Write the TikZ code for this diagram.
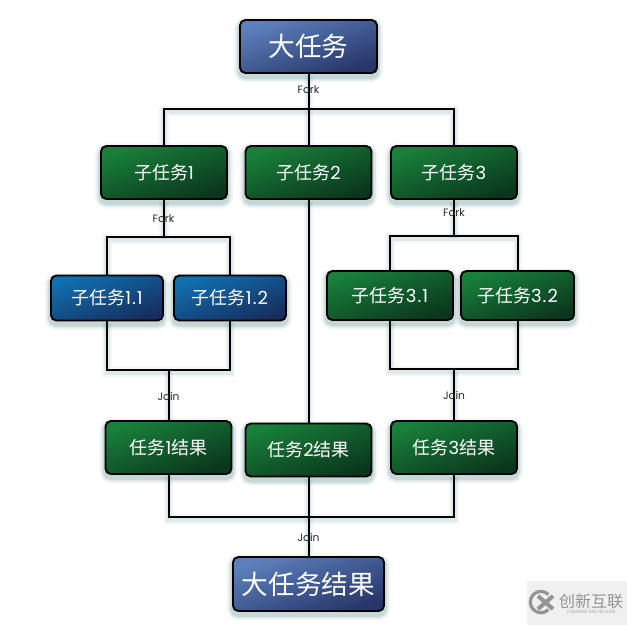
\documentclass[tikz,border=0pt]{standalone}
\usepackage{fontspec}
\setmainfont{Poppins}
\newfontfamily\cjk{Noto Sans CJK SC}
\newfontfamily\lat{Poppins}[LetterSpace=6]
\usetikzlibrary{backgrounds}
\tikzset{
  px/.style={x=0.75pt,y=-0.75pt},
  taskbox/.style n args={4}{draw=black,line width=1.4pt,rounded corners=4pt,
    top color=#3,bottom color=#4,shading angle=20,
    minimum width=#1*0.75pt,minimum height=#2*0.75pt,inner sep=0pt,text=white,
    preaction={draw=teal!60!black,draw opacity=.05,line width=9pt,fill=none,transform canvas={yshift=-2.5pt}},
    preaction={draw=teal!60!black,draw opacity=.07,line width=6.5pt,fill=none,transform canvas={yshift=-2.5pt}},
    preaction={draw=teal!60!black,draw opacity=.12,line width=4pt,fill=none,transform canvas={yshift=-2.5pt}}},
  bigtask/.style 2 args={taskbox={#1}{#2}{bluetop}{bluebot},font=\fontsize{20}{24}\selectfont},
  subtask/.style 2 args={taskbox={#1}{#2}{greentop}{greenbot},font=\fontsize{13.5}{16}\selectfont},
  leaftask/.style 2 args={taskbox={#1}{#2}{leaftop}{leafbot},font=\fontsize{13.5}{16}\selectfont},
  link/.style={draw=black,line width=1.5pt,
    preaction={draw=teal!60!black,draw opacity=.05,line width=7pt,transform canvas={yshift=-1.5pt}},
    preaction={draw=teal!60!black,draw opacity=.08,line width=4pt,transform canvas={yshift=-1.5pt}}},
  flowlabel/.style={font=\fontsize{8}{10}\selectfont,text=black!85,inner sep=0pt},
}
\definecolor{bluetop}{HTML}{5C80BC}
\definecolor{bluebot}{HTML}{27366A}
\definecolor{greentop}{HTML}{18803A}
\definecolor{greenbot}{HTML}{0B361D}
\definecolor{leaftop}{HTML}{1070B0}
\definecolor{leafbot}{HTML}{172E5E}
\begin{document}
\begin{tikzpicture}[px]
\useasboundingbox (0,0) rectangle (627,625);
% nodes
\node[bigtask={137}{53}] (top) at (308.5,46.5) {\cjk 大任务};
\node[subtask={126}{53}] (s1) at (164,172.5) {\cjk 子任务\lat 1};
\node[subtask={126}{53}] (s2) at (308.5,172.5) {\cjk 子任务\lat 2};
\node[subtask={126}{53}] (s3) at (454,172.5) {\cjk 子任务\lat 3};
\node[leaftask={112}{45}] (l1) at (107,298) {\raisebox{1pt}{\cjk 子任务\lat 1.1}};
\node[leaftask={112}{45}] (l2) at (230,298) {\raisebox{1pt}{\cjk 子任务\lat 1.2}};
\node[subtask={126}{49}] (g1) at (390,295.5) {\cjk 子任务\lat 3.1};
\node[subtask={113}{49}] (g2) at (517.5,295.5) {\cjk 子任务\lat 3.2};
\node[subtask={126}{53}] (r1) at (168.5,447.5) {\cjk 任务\lat 1\cjk 结果};
\node[subtask={126}{53}] (r2) at (308.5,450) {\cjk 任务\lat 2\cjk 结果};
\node[subtask={126}{53}] (r3) at (454,447.5) {\cjk 任务\lat 3\cjk 结果};
\node[bigtask={151}{54}] (end) at (308.5,584) {\cjk 大任务结果};
% junctions
\coordinate (f0) at (308.5,109);
\coordinate (f1) at (164,237);
\coordinate (f3) at (454,236);
\coordinate (j1) at (168.5,370);
\coordinate (j3) at (454,369);
\coordinate (j0) at (308.5,517);
% connectors
\begin{scope}[on background layer]
\draw[link] (top.south) -- (f0);
\draw[link] (s1.north) |- (f0) -| (s3.north);
\draw[link] (f0) -- (s2.north);
\draw[link] (s1.south) -- (f1);
\draw[link] (l1.north) |- (f1) -| (l2.north);
\draw[link] (l1.south) |- (j1) -| (l2.south);
\draw[link] (j1) -- (r1.north);
\draw[link] (s3.south) -- (f3);
\draw[link] (g1.north) |- (f3) -| (g2.north);
\draw[link] (g1.south) |- (j3) -| (g2.south);
\draw[link] (j3) -- (r3.north);
\draw[link] (s2.south) -- (r2.north);
\draw[link] (r1.south) |- (j0) -| (r3.south);
\draw[link] (r2.south) -- (end.north);
\end{scope}
% labels
\node[flowlabel] (lf0) at (308.5,90) {Fork};
\node[flowlabel] (lf1) at (163.5,219) {Fork};
\node[flowlabel] (lf3) at (454,213) {Fork};
\node[flowlabel] (lj1) at (168.5,396) {Join};
\node[flowlabel] (lj3) at (454,395) {Join};
\node[flowlabel] (lj0) at (308.5,537) {Join};
% watermark
\fill[black!6] (527,581) rectangle (627,625);
\draw[black!42,line width=2.4pt] (548.5,594.5) arc (45:315:8pt);
\draw[black!42,line width=3pt] (538,596) -- (553,609) (538,609) -- (553,596);
\node[text=black!42,font=\cjk\fontsize{12}{12}\selectfont,inner sep=0pt] (wm) at (591,601.5) {创新互联};
\node[text=black!35,font=\fontsize{3.6}{4}\selectfont,inner sep=0pt] (wm2) at (591,612) {CHUANG XIN HU LIAN};
\end{tikzpicture}
\end{document}
